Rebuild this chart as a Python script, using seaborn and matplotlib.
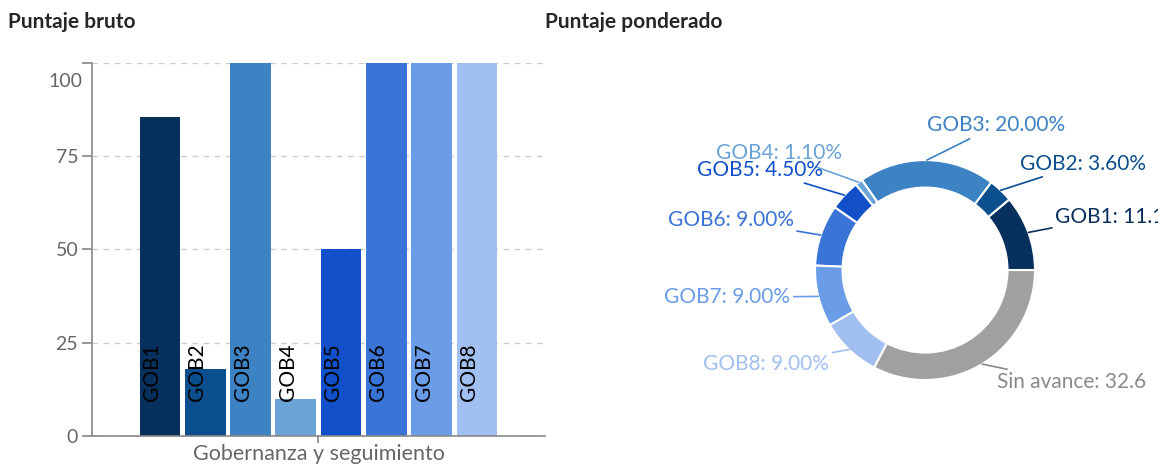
import matplotlib
matplotlib.use("Agg")
import matplotlib.pyplot as plt
import numpy as np
import pandas as pd
import seaborn as sns

# datos
indicadores = ["GOB1", "GOB2", "GOB3", "GOB4", "GOB5", "GOB6", "GOB7", "GOB8"]
puntaje_bruto = [85.4, 18, 100, 10, 50, 100, 100, 100]
categoria = "Gobernanza y seguimiento"
yticks = [0, 25, 50, 75, 100]

donut_labels = ["GOB1", "GOB2", "GOB3", "GOB4", "GOB5", "GOB6", "GOB7", "GOB8", "Sin avance"]
puntaje_ponderado = [11.1, 3.6, 20.0, 1.1, 4.5, 9.0, 9.0, 9.0, 32.6]
etiquetas_pct = ["11.1", "3.60%", "20.00%", "1.10%", "4.50%", "9.00%", "9.00%", "9.00%", "32.6"]

colores = ["#08305c", "#0b4f8e", "#3d82c3", "#6aa3d6", "#1150c8",
           "#3a74d6", "#6a9ce8", "#a1bff0", "#a0a0a0"]

sns.set_style("white")
plt.rcParams["font.family"] = ["Lato", "DejaVu Sans"]

fig = plt.figure(figsize=(11.58, 4.66), dpi=100)

# ---- barras
ax = fig.add_axes([0.0795, 0.0644, 0.391, 0.8004])
df = pd.DataFrame({"categoria": [categoria] * len(indicadores),
                   "indicador": indicadores,
                   "valor": puntaje_bruto})
sns.barplot(data=df, x="categoria", y="valor", hue="indicador",
            palette=colores[:8], width=0.8, gap=0.1, edgecolor="none",
            saturation=1, legend=False, ax=ax)
ax.set_ylim(0, 100)
ax.set_yticks(yticks)
ax.set_yticklabels([str(t) if t != 100 else "" for t in yticks])
ax.yaxis.grid(True, color="#cccccc", linestyle=(0, (4, 4)), linewidth=1)
ax.set_axisbelow(True)
for s in ["top", "right"]:
    ax.spines[s].set_visible(False)
for s in ["left", "bottom"]:
    ax.spines[s].set_color("#888888")
    ax.spines[s].set_linewidth(1.2)
ax.tick_params(axis="y", colors="#888888", labelcolor="#666666", labelsize=14,
               length=7, width=1.2, direction="out", left=True, pad=3)
ax.tick_params(axis="x", colors="#888888", labelcolor="#666666", labelsize=15.5,
               length=5, width=1.2, bottom=True, pad=1)
ax.set_xlabel("")
ax.set_ylabel("")
# la etiqueta 100 va debajo de su marca
ax.annotate("100", xy=(0, 100), xycoords=("axes fraction", "data"),
            xytext=(-10, -18), textcoords="offset pixels",
            ha="right", va="center", fontsize=14, color="#666666")

for patch, name in zip(ax.patches, indicadores):
    cx = patch.get_x() + patch.get_width() / 2
    ax.annotate(name, xy=(cx, 9.4), xytext=(2, 0), textcoords="offset pixels",
                rotation=90, ha="right", va="bottom", fontsize=15, color="black")

fig.text(0.007, 0.952, "Puntaje bruto", fontsize=15, fontweight="bold", va="center")
fig.text(0.471, 0.952, "Puntaje ponderado", fontsize=15, fontweight="bold", va="center")

# ---- dona
ax2 = fig.add_axes([0.7038, 0.1845, 0.19, 0.472])
wedges, _ = ax2.pie(puntaje_ponderado, colors=colores, startangle=0,
                    counterclock=True, radius=1,
                    wedgeprops=dict(width=0.25, edgecolor="white", linewidth=1.5))
ax2.set_xlim(-1, 1)
ax2.set_ylim(-1, 1)
ax2.set_aspect("equal")
ax2.axis("off")

for w, name, pct, col in zip(wedges, donut_labels, etiquetas_pct, colores):
    ang = np.deg2rad((w.theta1 + w.theta2) / 2)
    x0, y0 = np.cos(ang), np.sin(ang)
    x1, y1 = 1.26 * x0, 1.26 * y0
    ha = "left" if x0 > -0.05 else "right"
    txtcol = "#8a8a8a" if name == "Sin avance" else col
    ax2.annotate(f"{name}: {pct}", xy=(x0, y0), xytext=(x1, y1),
                 ha=ha, va="baseline", fontsize=15, color=txtcol,
                 arrowprops=dict(arrowstyle="-", color=txtcol, lw=1.2,
                                 shrinkA=0, shrinkB=0),
                 annotation_clip=False)

fig.savefig("out.png", dpi=100)
